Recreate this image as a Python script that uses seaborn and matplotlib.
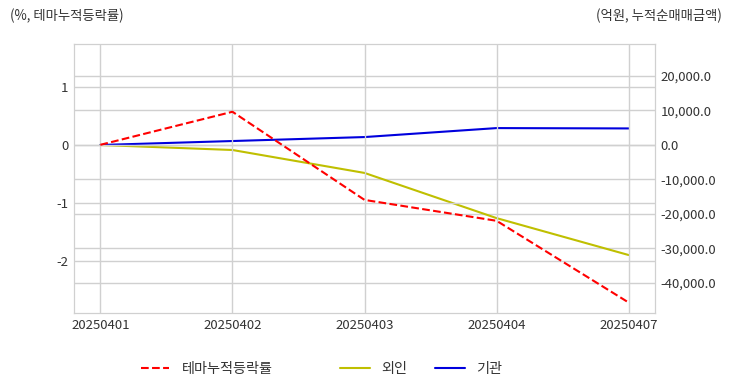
import matplotlib
matplotlib.use("Agg")
import matplotlib.pyplot as plt
import matplotlib.ticker as mticker
import seaborn as sns
import pandas as pd

dates = ["20250401", "20250402", "20250403", "20250404", "20250407"]
theme_pct = [0.0, 0.57, -0.95, -1.31, -2.72]
foreign_amt = [0.0, -1450.0, -8100.0, -21200.0, -31900.0]
inst_amt = [0.0, 1150.0, 2300.0, 4900.0, 4800.0]

sns.set_style("whitegrid", {"grid.color": "#d0d0d0", "axes.edgecolor": "#d0d0d0"})
plt.rcParams["font.family"] = ["Noto Sans CJK KR", "DejaVu Sans"]

df = pd.DataFrame({"date": dates, "theme": theme_pct, "foreign": foreign_amt, "inst": inst_amt})

fig = plt.figure(figsize=(7.32, 3.92), dpi=100)
ax = fig.add_axes([0.101, 0.2015, 0.794, 0.6865])
ax2 = ax.twinx()

sns.lineplot(data=df, x="date", y="theme", ax=ax, color="#ff0000", linestyle="--",
             linewidth=1.5, label="테마누적등락률", legend=False)
sns.lineplot(data=df, x="date", y="foreign", ax=ax2, color="#bfbf00",
             linewidth=1.5, label="외인", legend=False)
sns.lineplot(data=df, x="date", y="inst", ax=ax2, color="#0000dd",
             linewidth=1.5, label="기관", legend=False)

ax.set_xlim(-0.2, 4.2)
ax.set_ylim(-2.9, 1.74)
ax2.set_ylim(-48700, 29300)
ax.set_yticks([1, 0, -1, -2])
ax.set_yticklabels(["1", "0", "-1", "-2"])
ax2.set_yticks([20000, 10000, 0, -10000, -20000, -30000, -40000])
ax2.yaxis.set_major_formatter(mticker.FuncFormatter(lambda v, p: f"{v:,.1f}"))

for a in (ax, ax2):
    a.set_xlabel("")
    a.set_ylabel("")
    a.tick_params(length=0, labelsize=9.5, colors="#333333", pad=4)
ax2.grid(True, color="#d0d0d0", linewidth=1)
ax.grid(True, color="#d0d0d0", linewidth=1)
ax2.grid(False, axis="x")
for s in ax2.spines.values():
    s.set_color("#d0d0d0")
ax.set_zorder(ax2.get_zorder() + 1)
ax.patch.set_visible(False)

fig.text(10 / 732, 1 - 16 / 392, "(%, 테마누적등락률)", fontsize=9.6, color="#333333", va="center", ha="left")
fig.text(722 / 732, 1 - 16 / 392, "(억원, 누적순매매금액)", fontsize=9.6, color="#333333", va="center", ha="right")

h1, l1 = ax.get_legend_handles_labels()
h2, l2 = ax2.get_legend_handles_labels()
leg1 = fig.legend(h1, l1, loc="center", bbox_to_anchor=(207 / 732, 1 - 369 / 392), frameon=False,
                  fontsize=10.2, handlelength=2.0, handletextpad=0.9)
for t in leg1.get_texts():
    t.set_color("#333333")
leg2 = fig.legend(h2, l2, loc="center", bbox_to_anchor=(421 / 732, 1 - 369 / 392), frameon=False,
                  fontsize=10.2, ncol=2, handlelength=2.1, handletextpad=0.8, columnspacing=2.0)
for t in leg2.get_texts():
    t.set_color("#333333")

fig.savefig("out.png", dpi=100)
